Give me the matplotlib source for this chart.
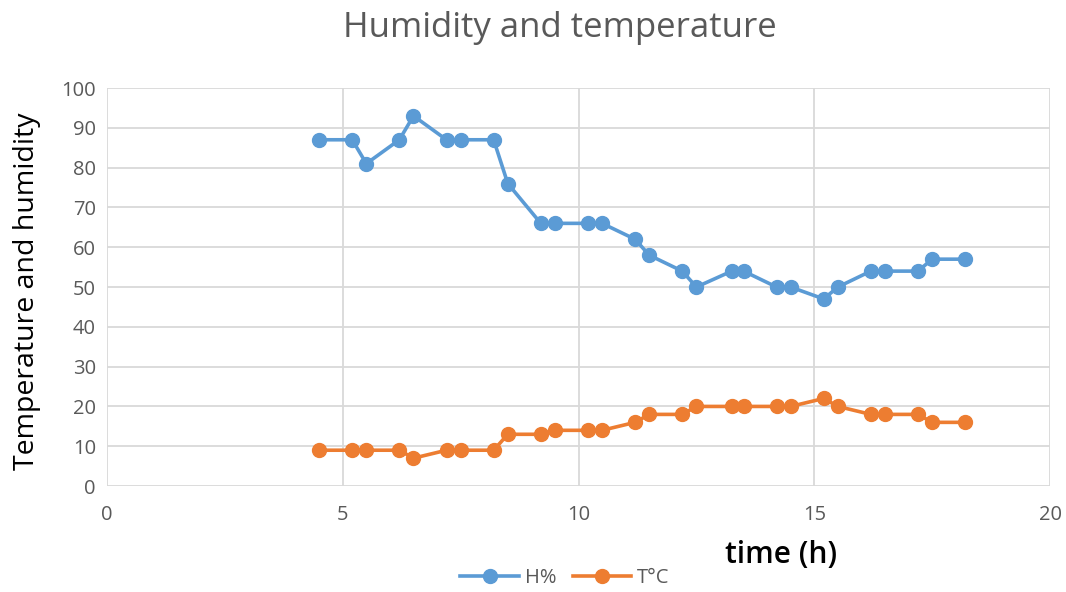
import matplotlib
matplotlib.use("Agg")
import matplotlib.pyplot as plt
from matplotlib.ticker import MultipleLocator

time_h = [4.5, 5.2, 5.5, 6.2, 6.5, 7.2, 7.5, 8.2, 8.5, 9.2, 9.5, 10.2, 10.5, 11.2,
          11.5, 12.2, 12.5, 13.25, 13.5, 14.2, 14.5, 15.2, 15.5, 16.2, 16.5, 17.2, 17.5, 18.2]
humidity = [87, 87, 81, 87, 93, 87, 87, 87, 76, 66, 66, 66, 66, 62,
            58, 54, 50, 54, 54, 50, 50, 47, 50, 54, 54, 54, 57, 57]
temperature = [9, 9, 9, 9, 7, 9, 9, 9, 13, 13, 14, 14, 14, 16,
               18, 18, 20, 20, 20, 20, 20, 22, 20, 18, 18, 18, 16, 16]

plt.rcParams['font.family'] = ['Open Sans', 'DejaVu Sans']

fig = plt.figure(figsize=(10.66, 5.92), dpi=100)
ax = fig.add_axes([0.1004, 0.179, 0.8846, 0.6723])

blue = '#5B9BD5'
orange = '#ED7D31'
l1, = ax.plot(time_h, humidity, color=blue, lw=2.6, marker='o', ms=10, label='H%')
l2, = ax.plot(time_h, temperature, color=orange, lw=2.6, marker='o', ms=10, label='T°C')

ax.set_xlim(0, 20)
ax.set_ylim(0, 100)
ax.xaxis.set_major_locator(MultipleLocator(5))
ax.yaxis.set_major_locator(MultipleLocator(10))
ax.grid(True, color='#D9D9D9', lw=1.3)
ax.set_axisbelow(True)
for s in ax.spines.values():
    s.set_visible(False)
ax.tick_params(length=0, labelsize=14.5, colors='#595959', pad=8)
ax.tick_params(axis='x', pad=14)

fig.text(0.525, 0.952, 'Humidity and temperature', ha='center', va='center',
         fontsize=25, color='#595959')
fig.text(0.025, 0.508, 'Temperature and humidity', rotation=90, ha='center', va='center',
         fontsize=20.5, color='black')
fig.text(0.733, 0.062, 'time (h)', ha='center', va='center', fontsize=21.5,
         fontweight='semibold', color='black')

leg = fig.legend(handles=[l1, l2], loc='center', bbox_to_anchor=(0.53, 0.023),
                 ncol=2, frameon=False, fontsize=14.5, handlelength=2.9,
                 columnspacing=0.8, handletextpad=0.3)
for t in leg.get_texts():
    t.set_color('#595959')

fig.savefig('out.png', dpi=100)
